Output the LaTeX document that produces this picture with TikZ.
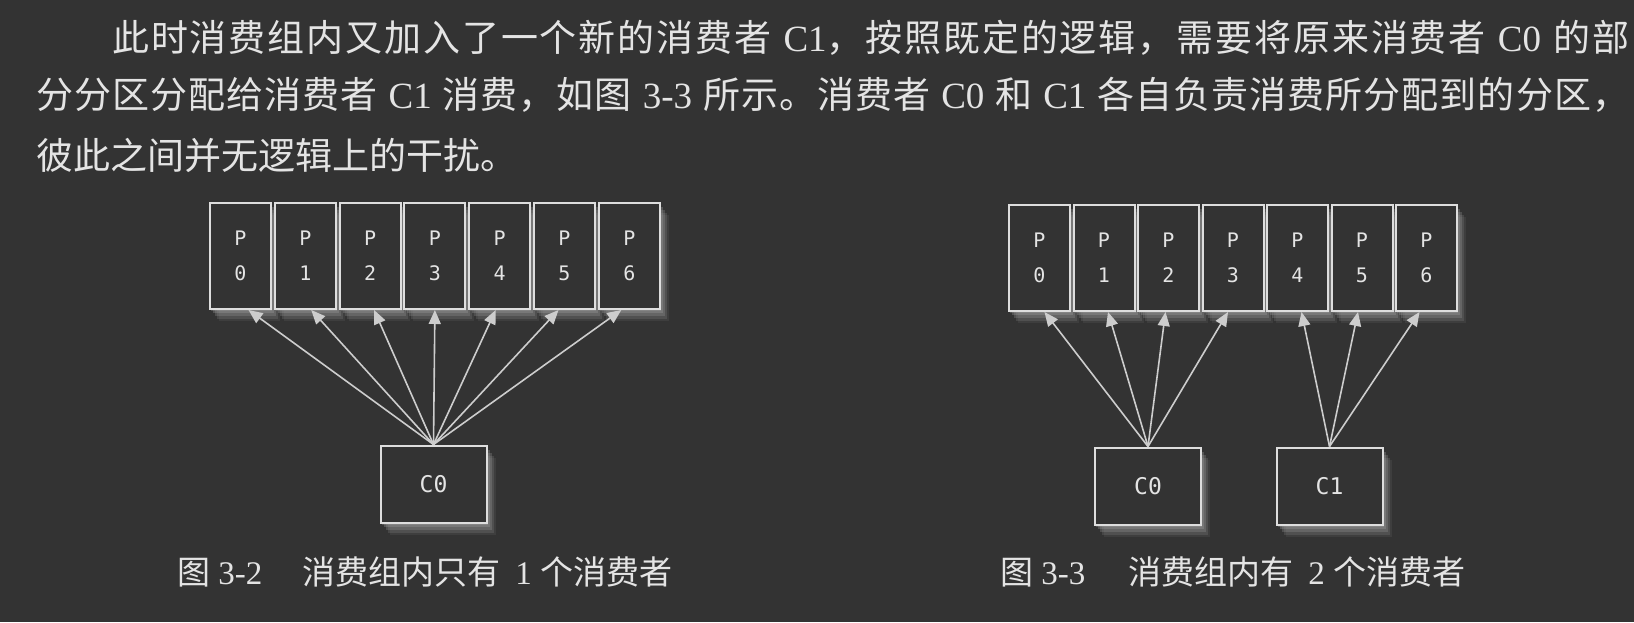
\documentclass[tikz,border=0pt]{standalone}
\usepackage{fontspec}
\setmainfont{Liberation Serif}
\newfontfamily\cjk{Noto Sans CJK SC}
\newfontfamily\latfont{Liberation Serif}
\newfontfamily\lab{DejaVu Sans Mono}
\usetikzlibrary{arrows.meta,shadows}
\definecolor{bgcol}{RGB}{51,51,51}
\definecolor{txtcol}{RGB}{228,228,228}
\definecolor{linecol}{RGB}{222,222,222}
\definecolor{arrcol}{RGB}{205,205,205}
\definecolor{shcol}{RGB}{165,165,165}
\newcommand\lt[1]{{\latfont #1}}
% inter-character glue for justified CJK lines
\newXeTeXintercharclass\myideo
\newXeTeXintercharclass\mypunct
\newcount\mycnt
\mycnt="4E00
\loop
  \XeTeXcharclass\mycnt=\myideo
  \advance\mycnt by 1
\ifnum\mycnt<"A000 \repeat
\XeTeXcharclass"FF0C=\mypunct
\XeTeXcharclass"3002=\mypunct
\newcommand\cjkglue{\hskip 0pt plus 3pt\relax}
\XeTeXinterchartoks\myideo\myideo={\cjkglue}
\XeTeXinterchartoks\myideo\mypunct={\cjkglue}
\XeTeXinterchartoks\mypunct\myideo={\cjkglue}
\XeTeXinterchartokenstate=1
\begin{document}
\begin{tikzpicture}[x=1pt,y=-1pt,
  blurshadow/.style={
    drop shadow={shadow xshift=1pt,shadow yshift=-2pt,fill=shcol,opacity=.30},
    drop shadow={shadow xshift=3pt,shadow yshift=-4pt,fill=shcol,opacity=.30},
    drop shadow={shadow xshift=5pt,shadow yshift=-7pt,fill=shcol,opacity=.25},
    drop shadow={shadow xshift=7pt,shadow yshift=-10pt,fill=shcol,opacity=.18},
    drop shadow={shadow xshift=9pt,shadow yshift=-12pt,fill=shcol,opacity=.10}},
  pbox/.style={draw=linecol, line width=2pt, fill=bgcol, minimum width=61pt,
    minimum height=106pt, inner sep=0pt, text=txtcol,
    font=\lab\fontsize{20}{35}\selectfont, align=center, blurshadow},
  cbox/.style={draw=linecol, line width=2pt, fill=bgcol, minimum width=106pt,
    minimum height=77pt, inner sep=0pt, text=txtcol,
    font=\lab\fontsize{23}{28}\selectfont, blurshadow},
  arr/.style={draw=arrcol, line width=1.6pt, -{Triangle[length=14pt,width=12pt]}},
  para/.style={anchor=west, inner sep=0pt, text=txtcol, font=\cjk\fontsize{37}{45}\selectfont},
  captxt/.style={anchor=west, inner sep=0pt, text=txtcol, font=\cjk\fontsize{33}{40}\selectfont},
]
\useasboundingbox (0,0) rectangle (1634,622);
\fill[bgcol] (0,0) rectangle (1634,622);

% paragraph
\node[para] (t1) at (112,38) {\makebox[1517pt][s]{此时消费组内又加入了一个新的消费者\lt{ C1}，按照既定的逻辑，需要将原来消费者\lt{ C0 }的部}};
\node[para] (t2) at (36,95) {\makebox[1593pt][s]{分分区分配给消费者\lt{ C1 }消费，如图\lt{ 3-3 }所示。消费者\lt{ C0 }和\lt{ C1 }各自负责消费所分配到的分区，}};
\node[para] (t3) at (36,155) {彼此之间并无逻辑上的干扰。};

% partitions
\foreach \i in {0,...,6} {
  \node[pbox] (lp\i) at ({240.5+64.8*\i},256) {P\\\i};
  \node[pbox] (rp\i) at ({1039.5+64.5*\i},258) {P\\\i};
}

% consumers
\node[cbox] (lc0) at (433.5,484) {C0};
\node[cbox] (rc0) at (1148,486) {C0};
\node[cbox] (rc1) at (1329.5,486) {C1};

% connectors
\foreach \i/\d in {0/8,1/6,2/4,3/0,4/-4,5/-6,6/-8}
  \draw[arr] (lc0.north) -- ([xshift=\d pt]lp\i.south);
\foreach \i/\d in {0/5,1/4,2/-3,3/-5}
  \draw[arr] (rc0.north) -- ([xshift=\d pt]rp\i.south);
\foreach \i/\d in {4/4,5/-4,6/-7}
  \draw[arr] (rc1.north) -- ([xshift=\d pt]rp\i.south);

% captions
\node[captxt] (cap1) at (177,572) {图\lt{ 3-2}\hspace{40pt}消费组内只有\hspace{15pt}\lt{1}\hspace{9pt}个消费者};
\node[captxt] (cap2) at (1000,572) {图\lt{ 3-3}\hspace{43pt}消费组内有\hspace{15pt}\lt{2}\hspace{9pt}个消费者};
\end{tikzpicture}
\end{document}
